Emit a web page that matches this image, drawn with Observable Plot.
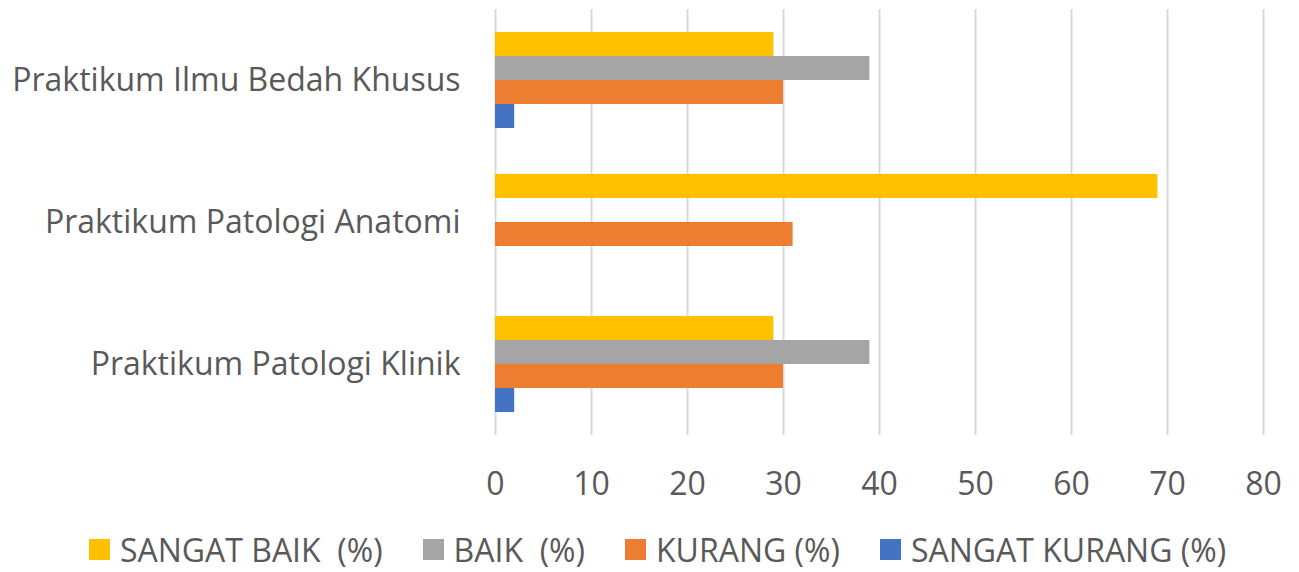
<!DOCTYPE html>
<html><head><meta charset="utf-8">
<script src="https://cdn.jsdelivr.net/npm/d3@7"></script>
<script src="https://cdn.jsdelivr.net/npm/@observablehq/plot@0.6"></script>
<style>
html,body{margin:0;padding:0;background:#fff;}
body{width:1299px;height:572px;overflow:hidden;font-family:"Open Sans",sans-serif;}
#legend{display:flex;justify-content:center;align-items:center;gap:40px;margin-top:18px;margin-left:16px;font-size:32px;color:#595959;}
#legend .item{display:flex;align-items:center;white-space:pre;}
#legend .sw{width:21px;height:21px;margin-right:10px;}
</style></head><body>
<div id="chart"></div>
<div id="legend"></div>
<script>
const categories = ["Praktikum Ilmu Bedah Khusus", "Praktikum Patologi Anatomi", "Praktikum Patologi Klinik"];
const series = ["SANGAT BAIK  (%)", "BAIK  (%)", "KURANG (%)", "SANGAT KURANG (%)"];
const colors = ["#FFC000", "#A5A5A5", "#ED7D31", "#4472C4"];
const sangatBaik = [29, 69, 29];
const baik = [39, 0, 39];
const kurang = [30, 31, 30];
const sangatKurang = [2, 0, 2];
const xTicks = [0, 10, 20, 30, 40, 50, 60, 70, 80];

const valuesBySeries = [sangatBaik, baik, kurang, sangatKurang];
const data = [];
categories.forEach((c, i) => {
  series.forEach((s, j) => {
    data.push({category: c, series: s, value: valuesBySeries[j][i]});
  });
});

const chart = Plot.plot({
  width: 1299,
  height: 510,
  marginLeft: 495,
  marginRight: 36,
  marginTop: 8,
  marginBottom: 75,
  style: {fontFamily: "Open Sans, sans-serif", color: "#595959", background: "#fff"},
  x: {domain: [0, 80], ticks: xTicks},
  y: {domain: series, paddingInner: 0, paddingOuter: 0.9, axis: null},
  fy: {domain: categories, padding: 0, label: null},
  color: {domain: series, range: colors},
  marks: [
    Plot.gridX(xTicks, {stroke: "#d9d9d9", strokeOpacity: 1, strokeWidth: 2}),
    Plot.barX(data.filter(d => d.value > 0), {x: "value", y: "series", fy: "category", fill: "series", inset: 0}),
    Plot.axisX(xTicks, {tickSize: 0, tickPadding: 37, fontSize: 32, fill: "#595959", label: null, facetAnchor: "bottom"}),
    Plot.axisFy({anchor: "left", tickSize: 0, tickPadding: 35, fontSize: 32, fill: "#595959", label: null})
  ]
});
document.getElementById("chart").appendChild(chart);

const legend = document.getElementById("legend");
series.forEach((s, i) => {
  const item = document.createElement("div");
  item.className = "item";
  const sw = document.createElement("span");
  sw.className = "sw";
  sw.style.background = colors[i];
  const t = document.createElement("span");
  t.textContent = s;
  item.appendChild(sw);
  item.appendChild(t);
  legend.appendChild(item);
});
</script>
</body></html>
